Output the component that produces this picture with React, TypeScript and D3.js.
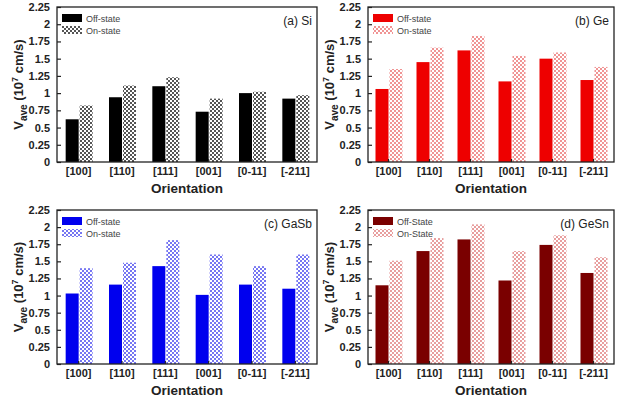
import React, { useEffect, useRef } from "react";
import * as d3 from "d3";

const orientations = ["[100]", "[110]", "[111]", "[001]", "[0-11]", "[-211]"];
const yTicks = [0, 0.25, 0.5, 0.75, 1, 1.25, 1.5, 1.75, 2, 2.25];

const siOff = [0.62, 0.94, 1.1, 0.73, 1.0, 0.92];
const siOn = [0.82, 1.11, 1.23, 0.92, 1.02, 0.97];
const geOff = [1.06, 1.45, 1.62, 1.17, 1.5, 1.19];
const geOn = [1.35, 1.66, 1.83, 1.54, 1.59, 1.38];
const gasbOff = [1.03, 1.16, 1.43, 1.01, 1.16, 1.1];
const gasbOn = [1.4, 1.48, 1.81, 1.6, 1.43, 1.6];
const gesnOff = [1.15, 1.65, 1.82, 1.22, 1.74, 1.33];
const gesnOn = [1.51, 1.84, 2.04, 1.65, 1.88, 1.56];

const panels = [
  { id: "a", title: "(a) Si", off: siOff, on: siOn, offLabel: "Off-state", onLabel: "On-state", offColor: "#000000", checkColor: "#555555", x0: 57, x1: 317, y0: 7, y1: 162 },
  { id: "b", title: "(b) Ge", off: geOff, on: geOn, offLabel: "Off-state", onLabel: "On-state", offColor: "#ee0000", checkColor: "#f09494", x0: 368, x1: 614, y0: 7, y1: 162 },
  { id: "c", title: "(c) GaSb", off: gasbOff, on: gasbOn, offLabel: "Off-state", onLabel: "On-state", offColor: "#0000ee", checkColor: "#7676f2", x0: 57, x1: 317, y0: 210, y1: 364 },
  { id: "d", title: "(d) GeSn", off: gesnOff, on: gesnOn, offLabel: "Off-State", onLabel: "On-State", offColor: "#7a0000", checkColor: "#e89e9e", x0: 368, x1: 614, y0: 210, y1: 364 },
];

const FONT = "'Liberation Sans', Arial, sans-serif";

const App = () => {
  const ref = useRef(null);

  useEffect(() => {
    const svg = d3.select(ref.current);
    svg.selectAll("*").remove();
    const defs = svg.append("defs");

    panels.forEach((p) => {
      // checker pattern for the on-state bars
      const pat = defs
        .append("pattern")
        .attr("id", "chk-" + p.id)
        .attr("width", 4)
        .attr("height", 4)
        .attr("patternUnits", "userSpaceOnUse");
      pat.append("rect").attr("width", 4).attr("height", 4).attr("fill", "#ffffff");
      pat.append("rect").attr("width", 2).attr("height", 2).attr("fill", p.checkColor);
      pat.append("rect").attr("x", 2).attr("y", 2).attr("width", 2).attr("height", 2).attr("fill", p.checkColor);

      const x = d3.scaleBand().domain(orientations).range([p.x0, p.x1]);
      const y = d3.scaleLinear().domain([0, 2.25]).range([p.y1, p.y0]);
      const bw = 13;
      const g = svg.append("g");

      // bars
      g.selectAll(".off")
        .data(p.off)
        .enter()
        .append("rect")
        .attr("x", (d, i) => x(orientations[i]) + x.bandwidth() / 2 - bw)
        .attr("y", (d) => y(d))
        .attr("width", bw)
        .attr("height", (d) => y(0) - y(d))
        .attr("fill", p.offColor);
      g.selectAll(".on")
        .data(p.on)
        .enter()
        .append("rect")
        .attr("x", (d, i) => x(orientations[i]) + x.bandwidth() / 2 + 1)
        .attr("y", (d) => y(d))
        .attr("width", bw)
        .attr("height", (d) => y(0) - y(d))
        .attr("fill", `url(#chk-${p.id})`);

      // frame
      g.append("rect")
        .attr("x", p.x0)
        .attr("y", p.y0)
        .attr("width", p.x1 - p.x0)
        .attr("height", p.y1 - p.y0)
        .attr("fill", "none")
        .attr("stroke", "#222")
        .attr("stroke-width", 1.3);

      // y axis
      const ya = g
        .append("g")
        .attr("transform", `translate(${p.x0},0)`)
        .call(d3.axisLeft(y).tickValues(yTicks).tickSizeInner(-4).tickSizeOuter(0).tickPadding(7).tickFormat((d) => String(d)));
      ya.select(".domain").remove();
      ya.selectAll("line").attr("stroke", "#222").attr("stroke-width", 1.2);
      ya.selectAll("text").attr("font-family", FONT).attr("font-weight", "bold").attr("font-size", 11).attr("fill", "#222");

      // x axis
      const xa = g
        .append("g")
        .attr("transform", `translate(0,${p.y1})`)
        .call(d3.axisBottom(x).tickSizeInner(-3).tickSizeOuter(0).tickPadding(5));
      xa.select(".domain").remove();
      xa.selectAll("line").attr("stroke", "#222").attr("stroke-width", 1.2);
      xa.selectAll("text").attr("font-family", FONT).attr("font-weight", "bold").attr("font-size", 11).attr("fill", "#222");

      // axis titles
      g.append("text")
        .attr("x", (p.x0 + p.x1) / 2)
        .attr("y", p.y1 + 31)
        .attr("text-anchor", "middle")
        .attr("font-family", FONT)
        .attr("font-weight", "bold")
        .attr("font-size", 13.5)
        .attr("fill", "#222")
        .text("Orientation");

      const yl = g
        .append("text")
        .attr("transform", `translate(${p.x0 - 34},${(p.y0 + p.y1) / 2}) rotate(-90)`)
        .attr("text-anchor", "middle")
        .attr("font-family", FONT)
        .attr("font-weight", "bold")
        .attr("font-size", 13)
        .attr("fill", "#222");
      yl.append("tspan").text("V");
      yl.append("tspan").attr("dy", 4).attr("font-size", 10).text("ave");
      yl.append("tspan").attr("dy", -4).text(" (10");
      yl.append("tspan").attr("dy", -5).attr("font-size", 9).text("7");
      yl.append("tspan").attr("dy", 5).text(" cm/s)");

      // legend
      const lx = p.x0 + 5;
      g.append("rect").attr("x", lx).attr("y", p.y0 + 7).attr("width", 20).attr("height", 8).attr("fill", p.offColor);
      g.append("rect").attr("x", lx).attr("y", p.y0 + 19).attr("width", 20).attr("height", 8).attr("fill", `url(#chk-${p.id})`);
      [p.offLabel, p.onLabel].forEach((t, i) => {
        g.append("text")
          .attr("x", lx + 24)
          .attr("y", p.y0 + 15 + i * 12)
          .attr("font-family", FONT)
          .attr("font-size", 9)
          .attr("fill", "#444")
          .text(t);
      });

      // panel label
      g.append("text")
        .attr("x", p.x1 - 5)
        .attr("y", p.y0 + 18)
        .attr("text-anchor", "end")
        .attr("font-family", FONT)
        .attr("font-size", 12)
        .attr("fill", "#222")
        .text(p.title);
    });
  }, []);

  return (
    <div style={{ position: "absolute", left: 0, top: 0, background: "#fff" }}>
      <svg ref={ref} width={635} height={405} style={{ display: "block" }} />
    </div>
  );
};

export default App;
